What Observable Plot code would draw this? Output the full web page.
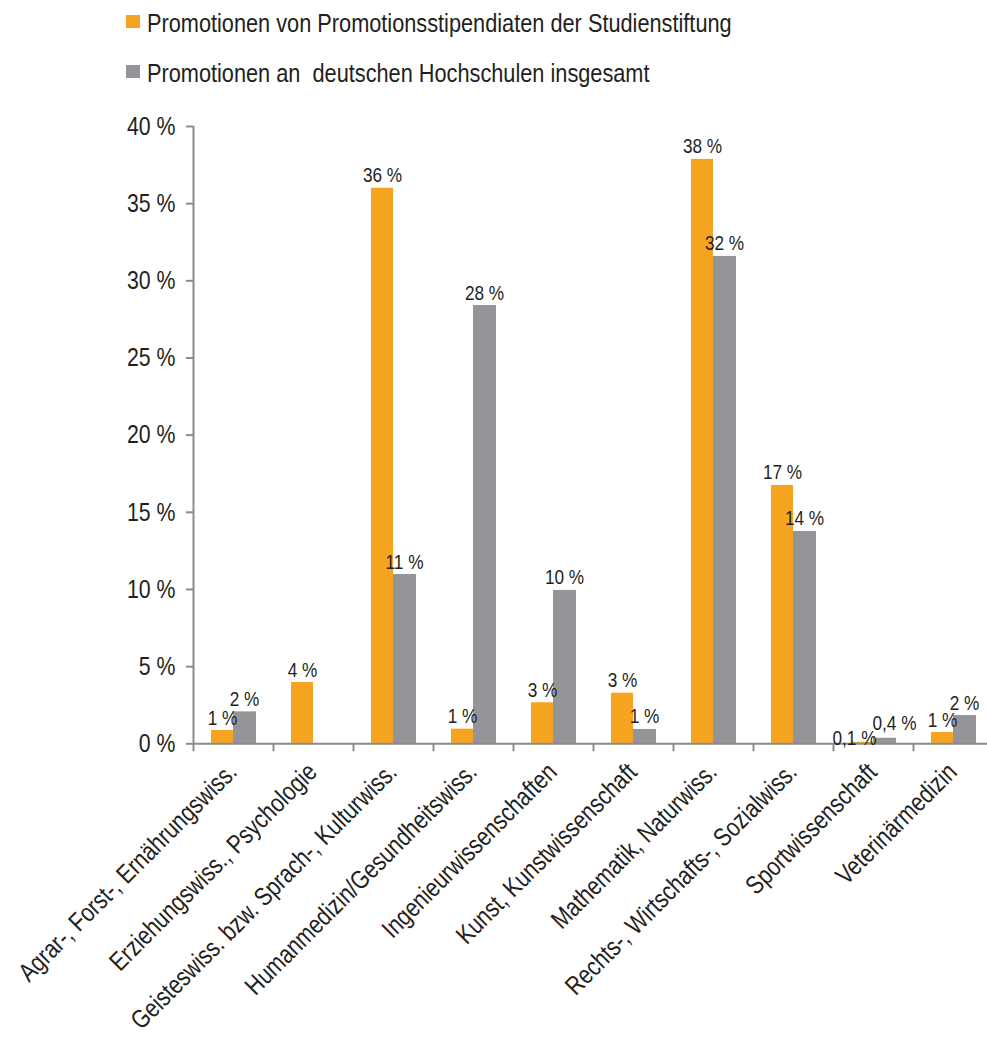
<!DOCTYPE html>
<html>
<head>
<meta charset="utf-8">
<script src="https://cdn.jsdelivr.net/npm/d3@7"></script>
<script src="https://cdn.jsdelivr.net/npm/@observablehq/plot@0.6"></script>
<style>
  html, body { margin: 0; padding: 0; background: #fff; overflow: hidden; }
  body { font-family: "Liberation Sans", Arial, sans-serif; color: #231f20; }
  #legend { position: relative; height: 100px; width: 987px; }
  .sw { position: absolute; width: 14px; height: 13px; }
  .lt { position: absolute; font-size: 26.5px; line-height: 26.5px; white-space: pre; transform: scaleX(0.82); transform-origin: 0 0; }
</style>
</head>
<body>
<div id="legend"></div>
<div id="chart"></div>
<script>
const categories = [
  "Agrar-, Forst-, Ernährungswiss.",
  "Erziehungswiss., Psychologie",
  "Geisteswiss. bzw. Sprach-, Kulturwiss.",
  "Humanmedizin/Gesundheitswiss.",
  "Ingenieurwissenschaften",
  "Kunst, Kunstwissenschaft",
  "Mathematik, Naturwiss.",
  "Rechts-, Wirtschafts-, Sozialwiss.",
  "Sportwissenschaft",
  "Veterinärmedizin"
];
const seriesNames = [
  "Promotionen von Promotionsstipendiaten der Studienstiftung",
  "Promotionen an  deutschen Hochschulen insgesamt"
];
const stiftung = [0.86, 3.97, 36.0, 0.95, 2.66, 3.28, 37.87, 16.74, 0.1, 0.73];
const gesamt = [2.07, 0, 10.97, 28.4, 9.94, 0.93, 31.58, 13.76, 0.36, 1.83];
const stiftungLabels = ["1 %", "4 %", "36 %", "1 %", "3 %", "3 %", "38 %", "17 %", "0,1 %", "1 %"];
const gesamtLabels = ["2 %", "", "11 %", "28 %", "10 %", "1 %", "32 %", "14 %", "0,4 %", "2 %"];
const yTicks = [0, 5, 10, 15, 20, 25, 30, 35, 40];

const ORANGE = "#f6a41f";
const GREY = "#939598";
const AXIS = "#8a8c8c";
const TEXT = "#231f20";
const FONT = '"Liberation Sans", Arial, sans-serif';
const NARROW = 0.82; // horizontal compression to mimic a narrow typeface

// legend
const legend = document.getElementById("legend");
[[ORANGE, seriesNames[0], 15, 10], [GREY, seriesNames[1], 65, 60]].forEach(([c, t, sy, ty]) => {
  const s = document.createElement("div");
  s.className = "sw"; s.style.background = c; s.style.left = "126px"; s.style.top = sy + "px";
  legend.appendChild(s);
  const l = document.createElement("div");
  l.className = "lt"; l.textContent = t; l.style.left = "147px"; l.style.top = ty + "px";
  legend.appendChild(l);
});

const data = categories.map((c, i) => ({
  cat: c, s: stiftung[i], g: gesamt[i], sl: stiftungLabels[i], gl: gesamtLabels[i], sport: c === "Sportwissenschaft"
}));
const normal = data.filter(d => !d.sport);
const sport = data.filter(d => d.sport);

const chart = Plot.plot({
  width: 987,
  height: 939,
  marginLeft: 193,
  marginRight: -6,
  marginTop: 26,
  marginBottom: 295.7,
  style: { fontFamily: FONT, color: TEXT, background: "#fff", overflow: "visible" },
  x: { domain: categories, padding: 0, axis: null, label: null },
  y: { domain: [0, 40], axis: null, label: null },
  marks: [
    Plot.barY(data, { x: "cat", y: "s", fill: ORANGE, insetLeft: 18, insetRight: 40 }),
    Plot.barY(data, { x: "cat", y: "g", fill: GREY, insetLeft: 40, insetRight: 17 }),
    Plot.ruleY([0], { stroke: AXIS, strokeWidth: 2 }),
    Plot.ruleX([categories[0]], { y1: 0, y2: 40, dx: -40, stroke: AXIS, strokeWidth: 2 }),
    Plot.axisY({ ticks: yTicks, tickSize: 7, tickPadding: 11, tickFormat: d => d + " %", fontSize: 26, stroke: AXIS, strokeWidth: 2, fill: TEXT, label: null }),
    Plot.axisX({ tickSize: 8, tickFormat: () => "", dx: -40, stroke: AXIS, strokeWidth: 2, label: null }),
    Plot.axisX({ tickSize: 0, tickRotate: -45, tickPadding: 24, fontSize: 26, dx: -1, fill: TEXT, label: null }),
    Plot.text(normal, { x: "cat", y: "s", text: "sl", dx: -11, dy: -6, lineAnchor: "bottom", fontSize: 21, fill: TEXT }),
    Plot.text(normal, { x: "cat", y: "g", text: "gl", dx: 11, dy: -6, lineAnchor: "bottom", fontSize: 21, fill: TEXT }),
    Plot.text(sport, { x: "cat", y: "s", text: "sl", dx: -19, dy: 3, lineAnchor: "bottom", fontSize: 21, fill: TEXT }),
    Plot.text(sport, { x: "cat", y: "g", text: "gl", dx: 21, dy: -8, lineAnchor: "bottom", fontSize: 21, fill: TEXT })
  ]
});
// compress every text horizontally around its own anchor point (y offsets in em are kept)
chart.querySelectorAll("text").forEach(t => {
  const xa = t.getAttribute("x");
  let x = 0;
  if (xa !== null && /^-?[\d.]+$/.test(xa)) { x = +xa; t.removeAttribute("x"); }
  const tr = t.getAttribute("transform") || "";
  t.setAttribute("transform", `${tr} translate(${x},0) scale(${NARROW},1)`);
});
document.getElementById("chart").appendChild(chart);
</script>
</body>
</html>
